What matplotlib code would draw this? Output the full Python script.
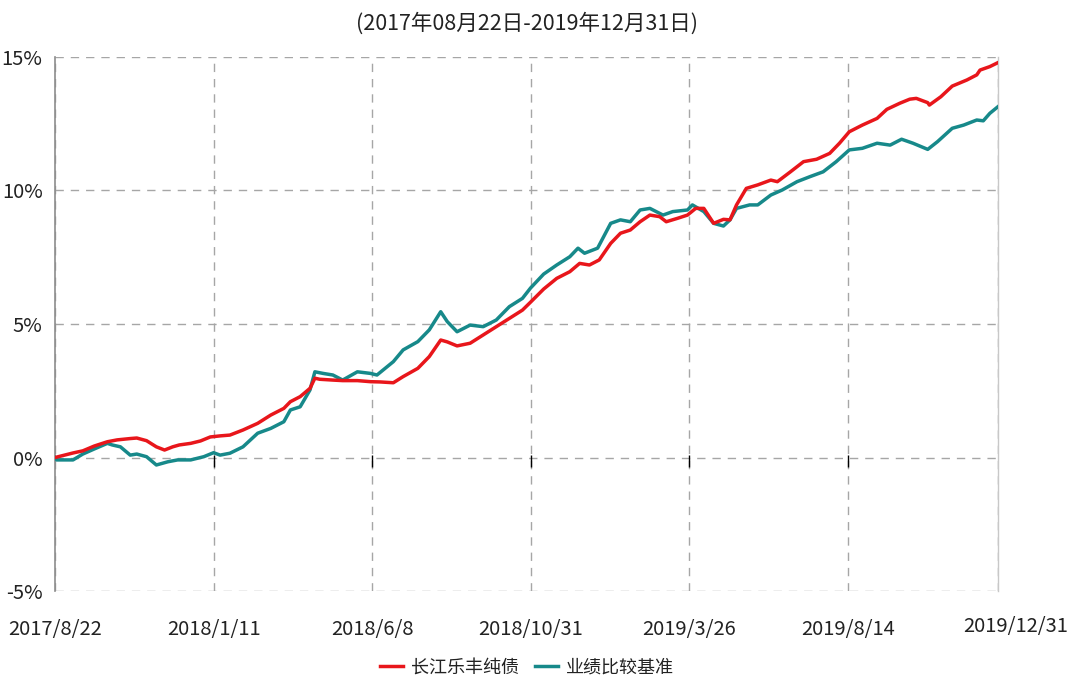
"""
Cumulative return of 长江乐丰纯债 vs its benchmark, 2017-08-22 .. 2019-12-31.

x axis is the trading-day index since inception; values are cumulative returns in %.
"""

import matplotlib
matplotlib.use("Agg")
import matplotlib.pyplot as plt
import matplotlib.transforms as mtransforms
from matplotlib.ticker import FuncFormatter

# ── Data ──────────────────────────────────────────────────────────────────────

TITLE = "(2017年08月22日-2019年12月31日)"

tick_days   = [0, 97, 194, 291, 388, 485, 577]
tick_labels = ["2017/8/22", "2018/1/11", "2018/6/8", "2018/10/31",
               "2019/3/26", "2019/8/14", "2019/12/31"]

fund_name = "长江乐丰纯债"
fund_days = [
    0, 11, 17, 24, 32, 38, 46, 50, 56, 62, 67, 72, 76, 83, 89, 95, 101, 107,
    115, 124, 132, 140, 144, 150, 156, 159, 162, 170, 176, 185, 193, 199, 207,
    213, 222, 229, 236, 240, 246, 254, 262, 270, 278, 286, 291, 299, 307, 315,
    321, 327, 333, 340, 346, 352, 358, 364, 370, 374, 381, 387, 392, 397, 403,
    409, 413, 417, 423, 430, 438, 442, 450, 458, 466, 474, 480, 486, 494, 503,
    509, 517, 523, 527, 534, 535, 542, 549, 558, 564, 566, 572, 577,
]
fund_ret = [
    0.00, 0.17, 0.25, 0.43, 0.59, 0.66, 0.71, 0.73, 0.63, 0.40, 0.28, 0.40,
    0.47, 0.53, 0.62, 0.77, 0.81, 0.84, 1.03, 1.28, 1.59, 1.84, 2.09, 2.28,
    2.59, 2.97, 2.93, 2.90, 2.88, 2.88, 2.84, 2.83, 2.80, 3.03, 3.34, 3.78,
    4.40, 4.33, 4.18, 4.28, 4.59, 4.90, 5.21, 5.52, 5.82, 6.31, 6.71, 6.96,
    7.27, 7.21, 7.40, 8.02, 8.40, 8.52, 8.83, 9.08, 9.02, 8.83, 8.96, 9.08,
    9.33, 9.33, 8.77, 8.92, 8.90, 9.46, 10.08, 10.21, 10.39, 10.33, 10.70,
    11.08, 11.17, 11.39, 11.77, 12.20, 12.45, 12.70, 13.04, 13.27, 13.42,
    13.45, 13.29, 13.20, 13.51, 13.91, 14.14, 14.33, 14.51, 14.64, 14.79,
]

bench_name = "业绩比较基准"
bench_days = [
    0, 1, 11, 17, 24, 32, 35, 40, 46, 50, 56, 62, 69, 75, 83, 91, 97, 101,
    107, 115, 124, 132, 140, 144, 150, 156, 159, 164, 170, 176, 185, 193, 197,
    207, 213, 222, 229, 236, 240, 246, 254, 262, 270, 278, 286, 291, 299, 307,
    315, 320, 324, 332, 340, 346, 352, 358, 364, 372, 378, 387, 390, 397, 403,
    409, 413, 417, 425, 430, 438, 445, 454, 462, 470, 478, 486, 494, 503, 511,
    518, 525, 534, 540, 549, 556, 564, 568, 572, 577,
]
bench_ret = [
    0.00, -0.09, -0.09, 0.13, 0.32, 0.53, 0.47, 0.40, 0.09, 0.13, 0.03, -0.28,
    -0.16, -0.09, -0.09, 0.03, 0.18, 0.09, 0.16, 0.40, 0.91, 1.09, 1.34, 1.78,
    1.90, 2.53, 3.21, 3.15, 3.09, 2.90, 3.21, 3.15, 3.09, 3.59, 4.03, 4.34,
    4.78, 5.46, 5.09, 4.71, 4.96, 4.90, 5.15, 5.65, 5.96, 6.35, 6.87, 7.21,
    7.52, 7.84, 7.65, 7.84, 8.77, 8.90, 8.83, 9.27, 9.33, 9.08, 9.21, 9.27,
    9.46, 9.21, 8.77, 8.67, 8.90, 9.33, 9.46, 9.46, 9.83, 10.02, 10.33, 10.52,
    10.70, 11.08, 11.52, 11.58, 11.77, 11.70, 11.92, 11.77, 11.54, 11.83,
    12.33, 12.45, 12.64, 12.61, 12.89, 13.14,
]

y_ticks = [-5, 0, 5, 10, 15]

# ── Style ─────────────────────────────────────────────────────────────────────

FUND_COLOR  = "#e8161b"
BENCH_COLOR = "#17898a"
GRID_COLOR  = "#a6a6a6"
TEXT_COLOR  = "#222222"
FONTS       = ["Liberation Sans Narrow", "Noto Sans CJK SC", "DejaVu Sans"]

plt.rcParams["font.family"] = FONTS


def main() -> None:
    fig = plt.figure(figsize=(10.73, 6.85), dpi=100)
    ax = fig.add_axes([0.0513, 0.1372, 0.8788, 0.7796])

    ax.plot(bench_days, bench_ret, color=BENCH_COLOR, linewidth=2.5, label=bench_name, zorder=3)
    ax.plot(fund_days, fund_ret, color=FUND_COLOR, linewidth=2.5, label=fund_name, zorder=4)

    ax.set_xlim(tick_days[0], tick_days[-1])
    ax.set_ylim(y_ticks[0], y_ticks[-1])

    # ── Axes decoration ───────────────────────────────────────────────────────
    ax.set_yticks(y_ticks)
    ax.yaxis.set_major_formatter(FuncFormatter(lambda v, _: f"{v:.0f}%"))
    ax.set_xticks(tick_days)
    ax.set_xticklabels(tick_labels)
    ax.tick_params(axis="both", length=0, labelsize=14.5, colors=TEXT_COLOR)
    ax.tick_params(axis="x", pad=20)
    ax.tick_params(axis="y", pad=9)

    # last date label sits right of the axis end, a bit higher
    last = ax.get_xticklabels()[-1]
    last.set_transform(last.get_transform()
                       + mtransforms.ScaledTranslation(0.18, 0.03, fig.dpi_scale_trans))

    ax.grid(True, color=GRID_COLOR, linestyle=(0, (6, 5)), linewidth=1.0, zorder=1)
    for side in ("top", "bottom"):
        ax.spines[side].set_visible(False)
    ax.spines["left"].set_color("#8c8c8c")
    ax.spines["left"].set_linewidth(1.2)
    ax.spines["right"].set_color("#c8c8c8")
    ax.spines["right"].set_linewidth(1.0)

    # small x-axis tick marks on the zero line
    ax.vlines(tick_days[1:-1], -0.35, 0.1, color="black", linewidth=1.0, zorder=2)

    fig.text(0.491, 0.966, TITLE, ha="center", va="center",
             fontsize=15.5, color=TEXT_COLOR)

    handles, labels = ax.get_legend_handles_labels()
    fig.legend(handles[::-1], labels[::-1], loc="center", bbox_to_anchor=(0.491, 0.026),
               ncol=2, frameon=False, fontsize=13, handlelength=1.3,
               handletextpad=0.4, columnspacing=0.9, labelcolor=TEXT_COLOR)

    fig.savefig("out.png", dpi=100)
    plt.close(fig)


if __name__ == "__main__":
    main()
